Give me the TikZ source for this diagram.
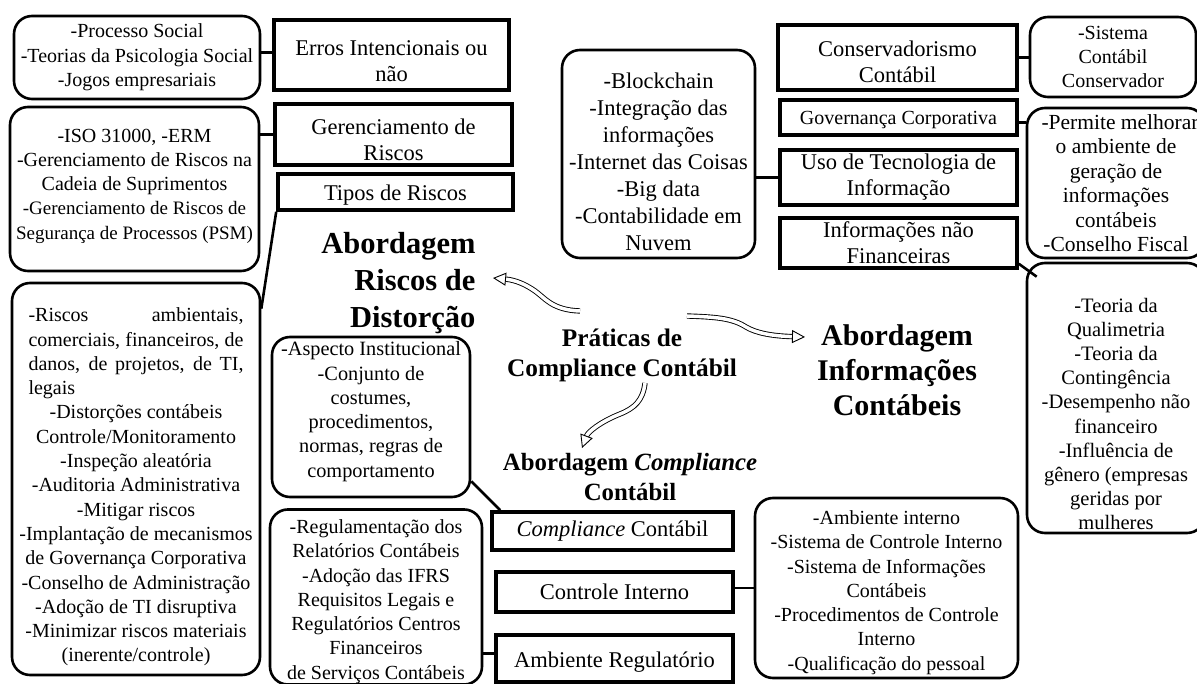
\documentclass[tikz,border=0pt]{standalone}
\usepackage{fontspec}
\setmainfont{Liberation Serif}
\usetikzlibrary{arrows.meta,calc}
\newcommand\bxf{\fontsize{20}{24.3}\selectfont}
\newcommand\smf{\fontsize{19}{24.3}\selectfont}
\newcommand\dn[1]{\rule{0pt}{#1}}
\begin{document}
\begin{tikzpicture}[x=1pt,y=-1pt,
  rbox/.style={draw, line width=2.6pt, rounded corners=18pt, align=center, inner sep=1pt, font=\bxf},
  sbox/.style={draw, line width=3.6pt, align=center, inner sep=1pt, font=\fontsize{22.5}{26}\selectfont},
  conn/.style={line width=2.6pt},
  hol/.style={line width=0.9pt, double=white, double distance=3.5pt, -{Triangle[open, length=13pt, width=13pt]}},
]
\useasboundingbox (0,0) rectangle (1197,684);

% left column
\node[rbox, minimum width=246pt, minimum height=83pt] (a) at (137,57.5) {-Processo Social\\-Teorias da Psicologia Social\\-Jogos empresariais};
\node[sbox, minimum width=235pt, minimum height=70pt] (erros) at (391.5,55) {\dn{28pt}Erros Intencionais ou\\não};
\node[rbox, minimum width=249pt, minimum height=164pt] (b) at (134.5,189) {-ISO 31000, -ERM\\-Gerenciamento de Riscos na\\Cadeia de Suprimentos\\{\smf -Gerenciamento de Riscos de}\\{\smf Segurança de Processos (PSM)}\rule[-10pt]{0pt}{0pt}};
\node[sbox, minimum width=237pt, minimum height=61pt] (ger) at (393.5,134.5) {\dn{27pt}Gerenciamento de\\Riscos};
\node[sbox, minimum width=235pt, minimum height=36pt] (tipos) at (395.5,192) {\dn{22pt}Tipos de Riscos};
\node[rbox, minimum width=248pt, minimum height=392pt] (c) at (136,479) {\dn{30pt}\makebox[215pt][s]{-Riscos\hfill ambientais,}\\\makebox[215pt][s]{comerciais, financeiros, de}\\\makebox[215pt][s]{danos, de projetos, de TI,}\\\makebox[215pt][l]{legais}\\-Distorções contábeis\\Controle/Monitoramento\\-Inspeção aleatória\\-Auditoria Administrativa\\-Mitigar riscos\\-Implantação de mecanismos\\de Governança Corporativa\\-Conselho de Administração\\-Adoção de TI disruptiva\\-Minimizar riscos materiais\\(inerente/controle)};

% middle
\node[rbox, minimum width=198pt, minimum height=160pt, font=\fontsize{20.3}{24.3}\selectfont] (d) at (371,417) {-Aspecto Institucional\\-Conjunto de\\costumes,\\procedimentos,\\normas, regras de\\comportamento\rule[-15pt]{0pt}{15pt}};
\node[rbox, minimum width=212pt, minimum height=173pt] (e) at (376,597) {\dn{23pt}-Regulamentação dos\\Relatórios Contábeis\\-Adoção das IFRS\\Requisitos Legais e\\Regulatórios Centros\\Financeiros\\de Serviços Contábeis};
\node[sbox, minimum width=241pt, minimum height=38pt] (cc) at (612.5,531) {\textit{Compliance} Contábil};
\node[sbox, minimum width=237pt, minimum height=40pt] (ci) at (614.5,592) {Controle Interno};
\node[sbox, minimum width=237pt, minimum height=47pt] (amb) at (614.5,658.5) {\dn{22pt}Ambiente Regulatório};
\node[rbox, minimum width=263pt, minimum height=180pt] (f) at (886.5,588) {\dn{23pt}-Ambiente interno\\-Sistema de Controle Interno\\-Sistema de Informações\\Contábeis\\-Procedimentos de Controle\\Interno\\-Qualificação do pessoal};

% top right
\node[rbox, minimum width=193pt, minimum height=208pt, font=\fontsize{22.5}{27}\selectfont] (bc) at (658.5,154) {\dn{31pt}-Blockchain\\-Integração das\\informações\\-Internet das Coisas\\-Big data\\-Contabilidade em\\Nuvem};
\node[sbox, minimum width=239pt, minimum height=65pt] (cons) at (897.5,57.5) {\dn{25pt}Conservadorismo\\Contábil};
\node[rbox, minimum width=166pt, minimum height=80pt] (sis) at (1113,57) {-Sistema\\Contábil\\Conservador};
\node[sbox, minimum width=237pt, minimum height=35pt, font=\fontsize{20}{22}\selectfont] (gov) at (898.5,117.5) {\dn{18pt}Governança Corporativa};
\node[rbox, minimum width=178pt, minimum height=150pt, font=\fontsize{21.5}{24.5}\selectfont] (perm) at (1116,183) {\hspace*{8pt}-Permite melhorar\\o ambiente de\\geração de\\informações\\contábeis\\-Conselho Fiscal};
\node[sbox, minimum width=237pt, minimum height=55pt] (uso) at (898.5,177.5) {Uso de Tecnologia de\\Informação};
\node[sbox, minimum width=237pt, minimum height=50pt] (info) at (898.5,243) {Informações não\\Financeiras};
\node[rbox, minimum width=178pt, minimum height=270pt, font=\fontsize{20.5}{24.2}\selectfont] (g) at (1116,398) {\dn{46pt}-Teoria da\\Qualimetria\\-Teoria da\\Contingência\\-Desempenho não\\financeiro\\-Influência de\\gênero (empresas\\geridas por\\mulheres};

% titles
\node[anchor=east, align=right, font=\fontsize{30.5}{37}\selectfont\bfseries] (trisk) at (479,283) {Abordagem\\Riscos de\\Distorção};
\node[align=center, font=\fontsize{25.3}{30}\selectfont\bfseries] (prat) at (622,355) {Práticas de\\Compliance Contábil};
\node[align=center, font=\fontsize{30}{35}\selectfont\bfseries] (tinfo) at (897,370) {Abordagem\\Informações\\Contábeis};
\node[align=center, font=\fontsize{24.8}{30}\selectfont\bfseries] (tcomp) at (630,477) {Abordagem \textit{Compliance}\\Contábil};

% connectors
\draw[conn] ($(a.east)+(0,-5)$) -- ($(a.east -| erros.west)+(0,-5)$);
\draw[conn] (b.east |- ger.west) -- (ger.west);
\draw[conn] (tipos.south west) -- ($(c.north east)+(0,27)$);
\draw[conn] (bc.east |- uso.west) -- (uso.west);
\draw[conn] (cons.east) -- (cons.east -| sis.west);
\draw[conn] ($(gov.east)+(0,5)$) -- ($(gov.east -| perm.west)+(0,5)$);
\draw[conn] ($(info.south east)+(0,-6)$) -- ($(g.north west)+(11,15)$);
\draw[conn] ($(d.south east)+(0,-17)$) -- ($(cc.north west)+(10,0)$);
\draw[conn] ($(ci.east)+(0,-4)$) -- ($(ci.east -| f.west)+(0,-4)$);
\draw[conn] ($(amb.west -| e.east)+(0,-5)$) -- ($(amb.west)+(0,-5)$);

% hollow wavy arrows
\coordinate (l0) at (580,311);
\coordinate (l1) at (493,278);
\coordinate (r0) at (687,316);
\coordinate (r1) at (805,337);
\coordinate (d0) at (645,383);
\coordinate (d1) at (582,448);
\draw[hol] (l0) .. controls (552,310) and (545,298) .. (535,291) .. controls (525,284) and (515,280) .. (l1);
\draw[hol] (r0) .. controls (715,317) and (732,318) .. (746,327) .. controls (756,333) and (772,336) .. (r1);
\draw[hol] (d0) .. controls (643,400) and (635,408) .. (620,414) .. controls (600,422) and (588,432) .. (d1);
\end{tikzpicture}
\end{document}
